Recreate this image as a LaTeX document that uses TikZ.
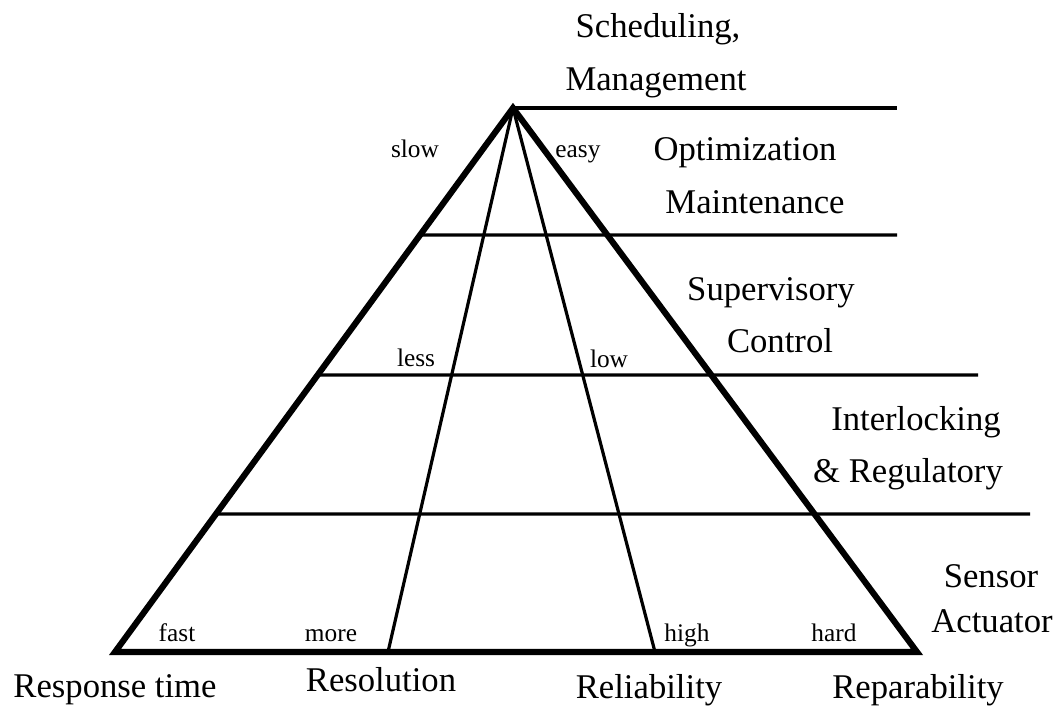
\documentclass[tikz,border=0pt]{standalone}
\usepackage{fontspec}
\setmainfont{Liberation Serif}
\usetikzlibrary{calc}
\begin{document}
\begin{tikzpicture}[x=0.75pt,y=-0.75pt,
  big/.style={font=\fontsize{26}{30}\selectfont, inner sep=0pt, text height=0.7em, text depth=0.22em},
  small/.style={font=\fontsize{19}{22}\selectfont, inner sep=0pt, text height=0.7em, text depth=0.22em},
  thick line/.style={line width=4.6pt, line join=miter},
  thin line/.style={line width=2.4pt}]
\useasboundingbox (0,0) rectangle (1058,709);
\coordinate (apex) at (513,108);
\coordinate (bl) at (115,652);
\coordinate (br) at (917,652);
\coordinate (m1) at (388,652);
\coordinate (m2) at (655,652);
\coordinate (e0) at (897,108);
\coordinate (h1) at ($(apex)!{127/544}!(bl)$);
\coordinate (h2) at ($(apex)!{267/544}!(bl)$);
\coordinate (h3) at ($(apex)!{406/544}!(bl)$);
\coordinate (e1) at (897,235);
\coordinate (e2) at (978,375);
\coordinate (e3) at (1030,514);
% horizontal lines
\draw[thin line] (apex) -- (e0);
\draw[thin line] (h1) -- (e1);
\draw[thin line] (h2) -- (e2);
\draw[thin line] (h3) -- (e3);
% inner lines
\draw[thin line] (apex) -- (m1);
\draw[thin line] (apex) -- (m2);
% outer triangle
\draw[thick line] (bl) -- (apex) -- (br) -- cycle;
% level labels
\node[big] (sch) at (658,34) {Scheduling,};
\node[big] (man) at (656,87) {Management};
\node[big] (opt) at (745,157) {Optimization};
\node[big] (mai) at (755,210) {Maintenance};
\node[big] (sup) at (771,297) {Supervisory};
\node[big] (con) at (780,349) {Control};
\node[big] (int) at (916,427) {Interlocking};
\node[big] (reg) at (908,479) {\& Regulatory};
\node[big] (sen) at (991,584) {Sensor};
\node[big] (act) at (992,629) {Actuator};
% axis labels
\node[big] (rt) at (115,694) {Response time};
\node[big] (res) at (381,688) {Resolution};
\node[big] (rel) at (649,695) {Reliability};
\node[big] (rep) at (918,695) {Reparability};
% small labels
\node[small] (slow) at (415,154) {slow};
\node[small] (easy) at (578,154) {easy};
\node[small] (less) at (416,363) {less};
\node[small] (low) at (609,364) {low};
\node[small] (fast) at (177,638) {fast};
\node[small] (more) at (331,638) {more};
\node[small] (high) at (687,638) {high};
\node[small] (hard) at (834,638) {hard};
\end{tikzpicture}
\end{document}
